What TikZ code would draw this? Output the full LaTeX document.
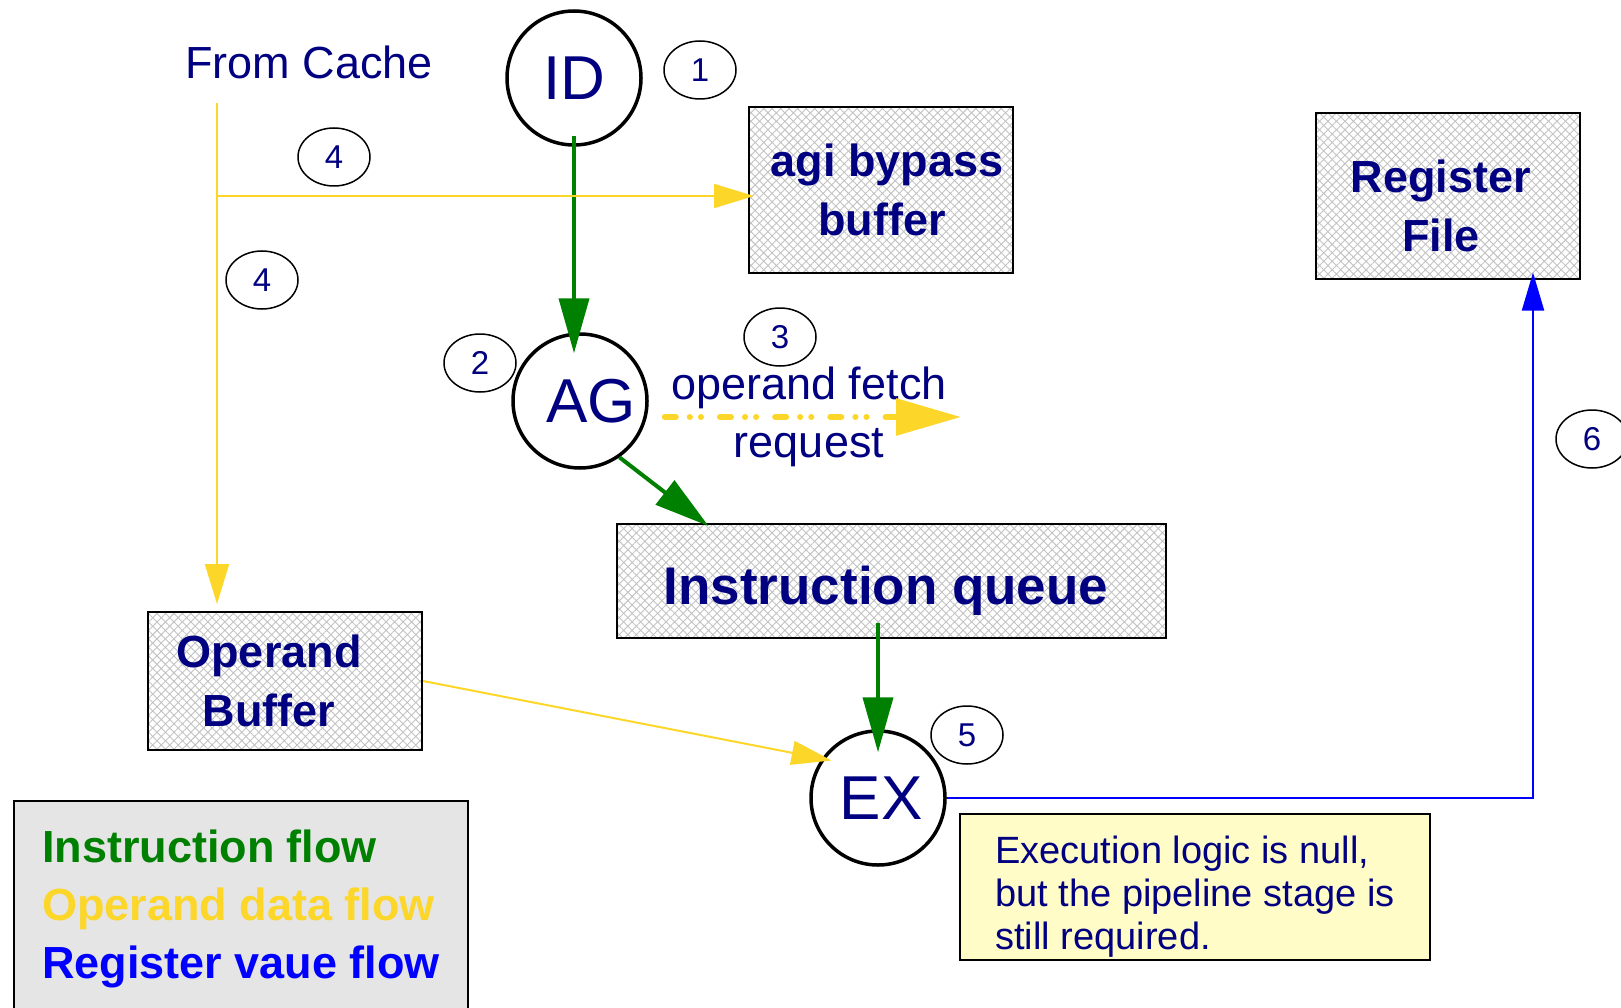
\documentclass[tikz,border=0pt]{standalone}
\usepackage{fontspec}
\setmainfont{Liberation Sans}
\usetikzlibrary{arrows.meta,shapes.geometric,patterns.meta}

\definecolor{navy}{RGB}{0,0,128}
\definecolor{flowgreen}{RGB}{0,128,0}
\definecolor{flowyellow}{RGB}{252,214,40}
\definecolor{flowblue}{RGB}{0,0,255}

\tikzset{
    stage/.style={circle, draw, line width=3.5pt, minimum size=134pt,
        inner sep=0pt, text=navy, font=\fontsize{62}{62}\selectfont},
    tag/.style={ellipse, draw, line width=1.5pt, minimum width=72pt,
        minimum height=58pt, inner sep=0pt, text=navy,
        font=\fontsize{33}{33}\selectfont},
    hatchbox/.style={draw, line width=2pt, align=center, text=navy,
        inner sep=0pt, font=\bfseries\fontsize{45}{59}\selectfont,
        preaction={pattern={Lines[angle=45,distance=6pt,line width=0.9pt]},
            pattern color=black!24},
        preaction={pattern={Lines[angle=-45,distance=6pt,line width=0.9pt]},
            pattern color=black!24}},
    instr/.style={draw=flowgreen, line width=4pt,
        -{Triangle[length=55pt,width=30pt]}},
    opnd/.style={draw=flowyellow, line width=2pt,
        -{Triangle[length=40pt,width=24pt]}},
    regv/.style={draw=flowblue, line width=2pt,
        -{Triangle[length=38pt,width=22pt]}}
}

\begin{document}
\begin{tikzpicture}[x=1pt,y=-1pt]
\useasboundingbox (0,0) rectangle (1621,1008);

%Stufen
    \node (ID) at (574,78) [stage] {ID};
    \node (AG) at (580,401) [stage] {\hspace*{22pt}AG};
    \node (EX) at (878,798) [stage] {\hspace*{6pt}EX};

    %Nummern
    \node (t1) at (700,70) [tag] {1};
    \node (t2) at (480,363) [tag] {2};
    \node (t3) at (780,337) [tag] {3};
    \node (t4a) at (334,157) [tag] {4};
    \node (t4b) at (262,280) [tag] {4};
    \node (t5) at (967,735) [tag] {5};
    \node (t6) at (1592,439) [tag] {6};

%Puffer
    \node (agi) at (881,190)
        [hatchbox, minimum width=264pt, minimum height=166pt]
        {\hspace*{12pt}agi bypass\\\hspace*{2pt}buffer};
    \node (rf) at (1448,196)
        [hatchbox, minimum width=264pt, minimum height=165pt, text height=112pt]
        {\hspace*{-14pt}Register\\\hspace*{-14pt}File};
    \node (queue) at (891,581)
        [hatchbox, minimum width=549pt, minimum height=114pt,
         text height=58pt, text depth=11pt,
         font=\bfseries\fontsize{53}{60}\selectfont]
        {\hspace*{-10pt}Instruction queue};
    \node (ob) at (285,681)
        [hatchbox, minimum width=274pt, minimum height=138pt]
        {\hspace*{-32pt}Operand\\\hspace*{-32pt}Buffer};

%Texte
    \node (cache) at (309,62)
        [text=navy, font=\fontsize{45}{45}\selectfont]
        {From Cache};
    \node (reqlabel) at (809,417)
        [text=navy, align=center, font=\fontsize{45}{58}\selectfont]
        {operand fetch\\request};
    \node (note) at (1195,887)
        [draw, line width=2pt, fill=yellow!22, minimum width=470pt,
         minimum height=144pt, align=left, text=navy, text height=132pt,
         font=\fontsize{38}{43}\selectfont]
        {Execution logic is null,\\but the pipeline stage is\\still required.};
    \node (legend) at (13,800)
        [anchor=north west, draw, line width=2pt, fill=black!10,
         align=left, inner xsep=28pt, inner ysep=29pt,
         font=\bfseries\fontsize{45}{58}\selectfont]
        {\textcolor{flowgreen}{Instruction flow}\\
         \textcolor{flowyellow}{Operand data flow}\\
         \textcolor{flowblue}{Register vaue flow}\rule[-60pt]{0pt}{0pt}};

%Befehlsfluss
    \draw[instr, shorten <=-11pt, shorten >=-21pt] (ID.south) -- (ID.south |- AG.north);
    \draw[instr] (AG.-55) -- ([xshift=93pt,yshift=-3pt]queue.north west);
    \draw[instr, shorten <=-16pt, shorten >=-23pt] (queue.south -| EX.north) -- (EX.north);

%Operanden
    \coordinate (src) at (217,103);
    \coordinate (split) at (217,196);
    \draw[draw=flowyellow, line width=2pt] (src) -- (split);
    \draw[opnd, shorten >=-6pt] (split) -- (split -| agi.west);
    \draw[opnd, shorten >=7pt] (split) -- (split |- ob.north);
    \draw[opnd, shorten >=-10pt] (ob.east) -- (EX.145);

    \coordinate (reqend) at (961,417);
    \draw[draw=flowyellow, line width=6pt, line cap=round,
        dash pattern=on 11pt off 14pt on 0.1pt off 11pt on 0.1pt off 19pt,
        -{Triangle[length=65pt,width=36pt]}]
        ([shift={(16pt,-16pt)}]AG.east) -- (reqend);

%Registerwert
    \coordinate (rfin) at ([xshift=85pt,yshift=7pt]rf.south);
    \draw[regv] (EX.east) -| (rfin);

\end{tikzpicture}
\end{document}
